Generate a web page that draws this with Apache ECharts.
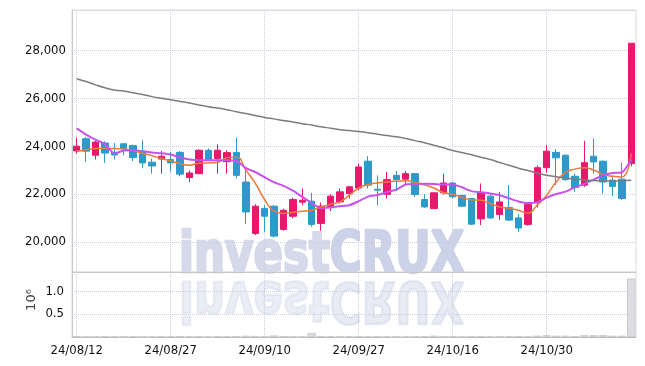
<!DOCTYPE html>
<html>
<head>
<meta charset="utf-8">
<script src="https://cdn.jsdelivr.net/npm/echarts@6/dist/echarts.min.js"></script>
<style>
  html, body { margin: 0; padding: 0; background: #fff; }
  #stockChart { width: 645px; height: 366px; }
</style>
</head>
<body>
<div id="stockChart"></div>
<script>
// 거래일 (yy/mm/dd)
const dates = [
  "24/08/12", "24/08/13", "24/08/14", "24/08/16", "24/08/19", "24/08/20", "24/08/21", "24/08/22", "24/08/23", "24/08/26",
  "24/08/27", "24/08/28", "24/08/29", "24/08/30", "24/09/02", "24/09/03", "24/09/04", "24/09/05", "24/09/06", "24/09/09",
  "24/09/10", "24/09/11", "24/09/12", "24/09/13", "24/09/19", "24/09/20", "24/09/23", "24/09/24", "24/09/25", "24/09/26",
  "24/09/27", "24/09/30", "24/10/02", "24/10/04", "24/10/07", "24/10/08", "24/10/10", "24/10/11", "24/10/14", "24/10/15",
  "24/10/16", "24/10/17", "24/10/18", "24/10/21", "24/10/22", "24/10/23", "24/10/24", "24/10/25", "24/10/28", "24/10/29",
  "24/10/30", "24/10/31", "24/11/01", "24/11/04", "24/11/05", "24/11/06", "24/11/07", "24/11/08", "24/11/11", "24/11/12",
];

const openPrice = [
  23800, 24310, 23620, 24130, 23740, 24100, 24030, 23790, 23330, 23460,
  23440, 23740, 22690, 22850, 23830, 23480, 23350, 23730, 22500, 20350,
  21390, 21490, 20520, 21070, 21660, 21700, 20770, 21460, 21670, 22020,
  22250, 23370, 22200, 21990, 22780, 22620, 22850, 21770, 21390, 22050,
  22460, 21940, 21810, 20960, 21910, 21140, 21440, 21000, 20730, 21640,
  23100, 23740, 23620, 22740, 22370, 23580, 23370, 22580, 22620, 23270,
];
const closePrice = [
  24000, 23790, 24170, 23710, 23630, 23900, 23520, 23300, 23170, 23580,
  23300, 22830, 22880, 23830, 23450, 23830, 23730, 22780, 21250, 21490,
  21070, 20240, 21320, 21770, 21740, 20730, 21490, 21910, 22090, 22300,
  23130, 22370, 22160, 22600, 22600, 22850, 21980, 21460, 22050, 22460,
  21880, 21490, 20740, 22060, 21000, 21670, 20910, 20580, 21570, 23100,
  23790, 23510, 22600, 22270, 23310, 23340, 22500, 22320, 21810, 28300,
];
const lowPrice = [
  23690, 23340, 23440, 23300, 23440, 23620, 23380, 23100, 22850, 22850,
  22940, 22740, 22490, 22850, 23400, 22850, 22850, 22650, 20740, 20280,
  20420, 20180, 20460, 20980, 21530, 20630, 20460, 21290, 21600, 21810,
  22160, 22230, 21530, 21810, 22130, 22370, 21880, 21420, 21380, 21980,
  21810, 21460, 20700, 20700, 20960, 20910, 20880, 20420, 20680, 21440,
  22880, 22370, 22550, 22100, 22300, 22850, 22020, 21910, 21750, 23160,
];
const highPrice = [
  24360, 24380, 24240, 24210, 24130, 24100, 24060, 24240, 23480, 23800,
  23760, 23800, 22990, 23870, 23900, 24080, 23830, 24360, 23130, 21570,
  21530, 21540, 21390, 21850, 22230, 22050, 21640, 21990, 22230, 22340,
  23270, 23580, 22780, 22920, 22960, 22960, 22880, 21990, 22060, 22850,
  22500, 21960, 21820, 22440, 21990, 22090, 22370, 21150, 21610, 23200,
  24040, 23870, 23650, 22850, 24220, 24320, 23400, 22780, 23300, 28300,
];

// 이동평균선
const ma5 = [
  23790, 23850, 23900, 23910, 23900, 23880, 23820, 23700, 23600, 23480,
  23380, 23270, 23200, 23290, 23300, 23330, 23520, 23540, 23000, 22450,
  21760, 21280, 21190, 21230, 21280, 21320, 21460, 21570, 21670, 21950,
  22250, 22390, 22460, 22500, 22530, 22550, 22490, 22380, 22250, 22060,
  21990, 21850, 21760, 21740, 21600, 21460, 21400, 21320, 21200, 21540,
  21950, 22500, 22900, 23040, 23100, 23000, 22820, 22740, 22710, 23700,
];
const ma20 = [
  24740, 24480, 24270, 24090, 23690, 23820, 23830, 23790, 23730, 23700,
  23650, 23530, 23440, 23410, 23410, 23410, 23410, 23380, 23080, 22920,
  22700, 22490, 22340, 22140, 21880, 21620, 21400, 21440, 21490, 21530,
  21700, 21890, 21960, 22080, 22180, 22400, 22420, 22430, 22420, 22400,
  22400, 22280, 22120, 22070, 22020, 21950, 21820, 21690, 21620, 21650,
  21850, 22000, 22100, 22280, 22420, 22600, 22790, 22880, 22900, 23440,
];
const ma60 = [
  26820, 26700, 26560, 26440, 26350, 26300, 26230, 26160, 26070, 26000,
  25940, 25870, 25800, 25720, 25650, 25590, 25520, 25440, 25360, 25280,
  25200, 25140, 25070, 25010, 24940, 24880, 24810, 24750, 24690, 24650,
  24610, 24560, 24500, 24440, 24390, 24320, 24230, 24140, 24040, 23930,
  23820, 23730, 23640, 23540, 23440, 23320, 23200, 23080, 22980, 22870,
  22780, 22720, 22670, 22620, 22590, 22560, 22545, 22540, 22555, 22575,
];

// 거래량 (백만 주)
const volume = [
  0.02, 0.01, 0.01, 0.02, 0.015, 0.01, 0.02, 0.01, 0.015, 0.02,
  0.02, 0.02, 0.01, 0.015, 0.01, 0.02, 0.02, 0.02, 0.03, 0.025,
  0.01, 0.035, 0.02, 0.01, 0.01, 0.09, 0.02, 0.015, 0.015, 0.015,
  0.02, 0.015, 0.015, 0.01, 0.01, 0.01, 0.01, 0.02, 0.03, 0.01,
  0.02, 0.01, 0.02, 0.02, 0.01, 0.01, 0.015, 0.02, 0.015, 0.03,
  0.04, 0.03, 0.03, 0.02, 0.04, 0.04, 0.04, 0.03, 0.03, 1.28,
];

const fontName = "'DejaVu Sans Condensed', 'DejaVu Sans', sans-serif";
const gridLine = { show: true, lineStyle: { color: "#c9cee0", type: "dotted", width: 1 } };
const markFont = "bold 57px 'DejaVu Sans Condensed', 'DejaVu Sans', sans-serif";

const chart = echarts.init(document.getElementById("stockChart"));

const options = {
  animation: false,
  grid: [
    { left: 72, right: 9, top: 10, height: 262, show: true, borderColor: "#dcdcdc", borderWidth: 1 },
    { left: 72, right: 9, top: 272, height: 65, show: true, borderColor: "#dcdcdc", borderWidth: 1 },
  ],
  xAxis: [
    {
      type: "category",
      gridIndex: 0,
      data: dates,
      boundaryGap: true,
      axisLine: { lineStyle: { color: "#c8c8c8" } },
      axisTick: { show: false },
      axisLabel: { show: false },
      splitLine: { ...gridLine, interval: 9, alignWithLabel: true },
    },
    {
      type: "category",
      gridIndex: 1,
      data: dates,
      boundaryGap: true,
      axisLine: { lineStyle: { color: "#bdbdbd" } },
      axisTick: { show: false },
      axisLabel: { interval: 9, color: "#111", fontSize: 13, fontFamily: fontName, margin: 7 },
      splitLine: { ...gridLine, interval: 9, alignWithLabel: true },
    },
  ],
  yAxis: [
    {
      type: "value",
      gridIndex: 0,
      min: 18740,
      max: 29690,
      splitNumber: 5,
      axisLine: { show: true, lineStyle: { color: "#c8c8c8" } },
      axisTick: { show: false },
      axisLabel: { color: "#111", fontSize: 13, fontFamily: fontName, margin: 6, showMinLabel: false, showMaxLabel: false },
      splitLine: gridLine,
    },
    {
      type: "value",
      gridIndex: 1,
      min: 0,
      max: 1.42,
      splitNumber: 3,
      axisLine: { show: true, lineStyle: { color: "#c8c8c8" } },
      axisTick: { show: false },
      axisLabel: {
        color: "#111", fontSize: 13, fontFamily: fontName, margin: 8,
        showMinLabel: false, showMaxLabel: false,
        formatter: (v) => v.toFixed(1),
      },
      splitLine: gridLine,
    },
  ],
  graphic: [
    {
      type: "text",
      x: 179, y: 286, z: 0, silent: true, scaleX: 0.85,
      style: {
        text: "{a|invest}{b|CRUX}",
        verticalAlign: "bottom",
        rich: {
          a: { font: markFont, fill: "#d5d9ea", stroke: "#d5d9ea", lineWidth: 2.5 },
          b: { font: markFont, fill: "#ccd2e7", stroke: "#ccd2e7", lineWidth: 2.5 },
        },
      },
    },
    {
      type: "text",
      x: 179, y: 268, z: 0, silent: true, scaleX: 0.85, scaleY: -1,
      style: {
        text: "{a|invest}{b|CRUX}",
        verticalAlign: "bottom",
        opacity: 0.45,
        rich: {
          a: { font: markFont, fill: "#d5d9ea", stroke: "#d5d9ea", lineWidth: 2.5 },
          b: { font: markFont, fill: "#ccd2e7", stroke: "#ccd2e7", lineWidth: 2.5 },
        },
      },
    },
    {
      type: "text",
      x: 32, y: 300, rotation: Math.PI / 2, silent: true,
      style: { text: "10⁶", font: "13px 'DejaVu Sans', sans-serif", fill: "#444", align: "center", verticalAlign: "middle" },
    },
  ],
  series: [
    {
      name: "가격",
      type: "candlestick",
      xAxisIndex: 0,
      yAxisIndex: 0,
      barWidth: 7,
      data: dates.map((d, i) => [openPrice[i], closePrice[i], lowPrice[i], highPrice[i]]),
      itemStyle: {
        color: "#e8196c",
        color0: "#2e9acb",
        borderColor: "#e8196c",
        borderColor0: "#2e9acb",
        borderWidth: 1,
      },
    },
    {
      name: "MA5", type: "line", xAxisIndex: 0, yAxisIndex: 0, data: ma5,
      smooth: true, showSymbol: false, lineStyle: { color: "#ee7a3c", width: 1.5 },
    },
    {
      name: "MA20", type: "line", xAxisIndex: 0, yAxisIndex: 0, data: ma20,
      smooth: 0.2, showSymbol: false, lineStyle: { color: "#c654ec", width: 2 },
    },
    {
      name: "MA60", type: "line", xAxisIndex: 0, yAxisIndex: 0, data: ma60,
      smooth: true, showSymbol: false, lineStyle: { color: "#7d7d7d", width: 1.5 },
    },
    {
      name: "거래량", type: "bar", xAxisIndex: 1, yAxisIndex: 1, data: volume,
      barWidth: "90%",
      itemStyle: { color: "#dcdce1", borderColor: "#cbcbd1", borderWidth: 1 },
    },
  ],
};

chart.setOption(options);

window.addEventListener("resize", () => {
  chart.resize();
});
</script>
</body>
</html>
